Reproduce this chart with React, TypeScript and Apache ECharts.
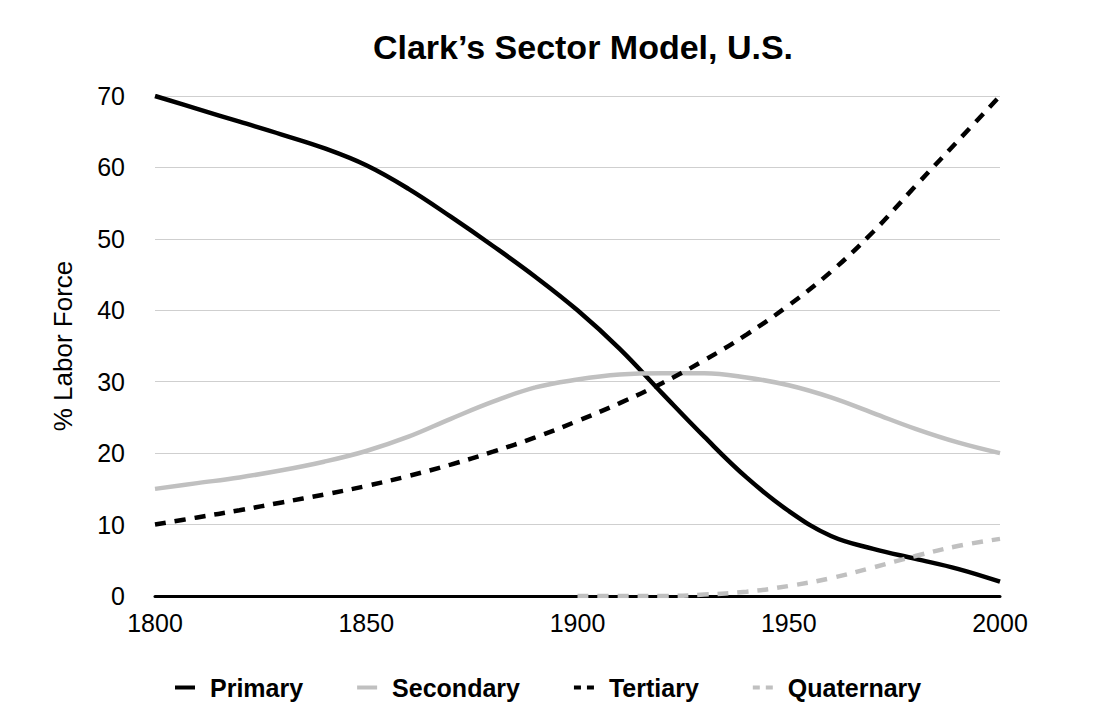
import React, { useEffect, useRef } from "react";
import * as echarts from "echarts";

const years = [1800, 1810, 1820, 1830, 1840, 1850, 1860, 1870, 1880, 1890, 1900, 1910, 1920, 1930, 1940, 1950, 1960, 1970, 1980, 1990, 2000];
const primary = [70, 68.2, 66.4, 64.6, 62.7, 60.3, 57, 53.1, 49, 44.7, 40, 34.6, 28.4, 22.3, 16.6, 11.9, 8.4, 6.6, 5.2, 3.8, 2];
const secondary = [15, 15.8, 16.6, 17.6, 18.8, 20.3, 22.3, 24.8, 27.2, 29.2, 30.3, 31, 31.2, 31.2, 30.6, 29.5, 27.8, 25.6, 23.4, 21.5, 20];
const tertiary = [10, 11, 12, 13.1, 14.2, 15.4, 16.8, 18.4, 20.2, 22.2, 24.5, 27, 29.8, 33, 36.6, 40.7, 45.4, 51, 57.4, 63.7, 70];
const quaternary = [null, null, null, null, null, null, null, null, null, null, 0, 0, 0, 0.2, 0.6, 1.4, 2.5, 4, 5.6, 7, 8];

const seriesNames = ["Primary", "Secondary", "Tertiary", "Quaternary"];
const title = "Clark\u2019s Sector Model, U.S.";
const yName = "% Labor Force";

const FONT = "'Liberation Sans', Arial, Helvetica, sans-serif";
const SOLID_ICON = "path://M0,0h20v4h-20z";
const DASH_ICON = "path://M0,0h7v4h-7z M13,0h7v4h-7z";

function pairs(vals: (number | null)[]) {
  return years.map((y, i) => [y, vals[i]]);
}

export default function App() {
  const ref = useRef<HTMLDivElement>(null);
  useEffect(() => {
    document.body.style.margin = "0";
    const chart = echarts.init(ref.current!, null, { renderer: "svg" });
    const mk = (name: string, vals: (number | null)[], color: string, dashed: boolean) => ({
      name,
      type: "line",
      data: pairs(vals),
      smooth: 0.4,
      showSymbol: false,
      symbol: "none",
      lineStyle: { color, width: 4.5, type: dashed ? [11, 9] : "solid" },
      itemStyle: { color },
    });
    chart.setOption({
      animation: false,
      backgroundColor: "#ffffff",
      title: {
        text: title,
        left: 578,
        textAlign: "center",
        top: 25,
        textStyle: { fontFamily: FONT, fontWeight: "bold", fontSize: 34, color: "#000" },
      },
      grid: { left: 155, right: 113, top: 96, bottom: 132 },
      legend: {
        data: seriesNames.map((n, i) => ({ name: n, icon: i < 2 ? SOLID_ICON : DASH_ICON })),
        left: 170,
        top: 670,
        itemWidth: 20,
        itemHeight: 4,
        itemGap: 54,
        textStyle: { fontFamily: FONT, fontWeight: "bold", fontSize: 25, color: "#000", padding: [0, 0, 0, 10] },
      },
      xAxis: {
        type: "value",
        min: 1800,
        max: 2000,
        interval: 50,
        axisLine: { show: true, lineStyle: { color: "#000", width: 3 } },
        axisTick: { show: false },
        splitLine: { show: false },
        axisLabel: { fontFamily: FONT, fontSize: 25, color: "#000", margin: 14, formatter: (v: number) => String(v) },
      },
      yAxis: {
        type: "value",
        min: 0,
        max: 70,
        interval: 10,
        name: yName,
        nameLocation: "middle",
        nameRotate: 90,
        nameGap: 79,
        nameTextStyle: { fontFamily: FONT, fontSize: 26, color: "#000" },
        axisLine: { show: false },
        axisTick: { show: false },
        splitLine: { lineStyle: { color: "#cfcfcf", width: 1.2 } },
        axisLabel: { fontFamily: FONT, fontSize: 25, color: "#000", margin: 30 },
      },
      series: [
        mk("Primary", primary, "#000000", false),
        mk("Secondary", secondary, "#c0c0c0", false),
        mk("Tertiary", tertiary, "#000000", true),
        mk("Quaternary", quaternary, "#c0c0c0", true),
      ],
    });
    return () => chart.dispose();
  }, []);
  return <div ref={ref} style={{ width: 1113, height: 728 }} />;
}
